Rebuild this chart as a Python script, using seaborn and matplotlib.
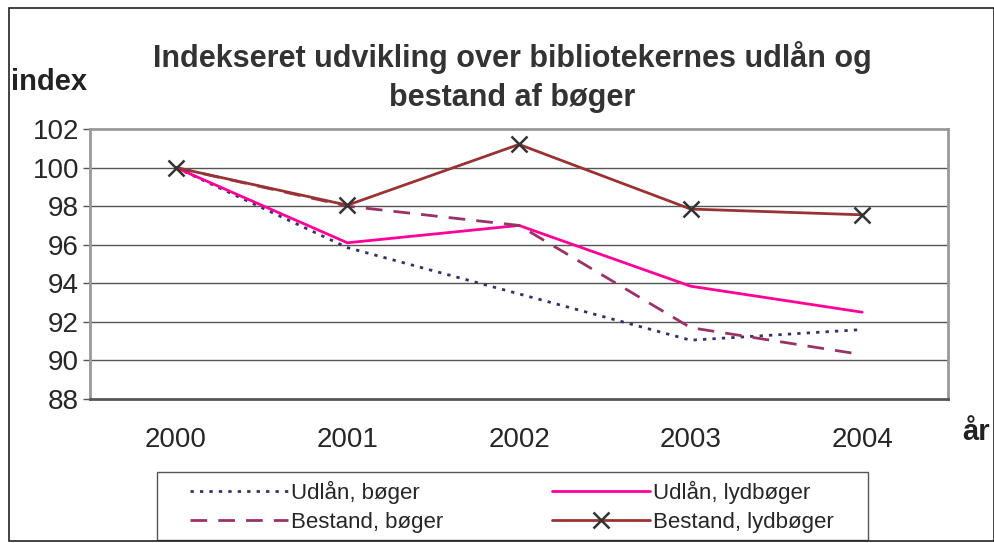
import numpy as np
import pandas as pd
import matplotlib
matplotlib.use('Agg')
import matplotlib.pyplot as plt
from matplotlib.patches import Rectangle
import seaborn as sns

# data
years = ['2000', '2001', '2002', '2003', '2004']
udlaan_boeger = [100, 95.85, 93.45, 91.05, 91.6]
udlaan_lydboeger = [100, 96.1, 97.0, 93.85, 92.5]
bestand_boeger = [100, 98.0, 97.0, 91.7, 90.3]
bestand_lydboeger = [100, 98.05, 101.2, 97.85, 97.55]
yticks = [88, 90, 92, 94, 96, 98, 100, 102]

sns.set_theme(style='white')
plt.rcParams['font.family'] = ['Liberation Sans', 'DejaVu Sans']

df = pd.DataFrame({'pos': np.arange(len(years)),
                   'Udlån, bøger': udlaan_boeger,
                   'Udlån, lydbøger': udlaan_lydboeger,
                   'Bestand, bøger': bestand_boeger,
                   'Bestand, lydbøger': bestand_lydboeger})

fig = plt.figure(figsize=(9.94, 5.43), dpi=100)
ax = fig.add_axes([90/994, 1-399/543, (948-90)/994, (399-129)/543])

for y in yticks[1:-1]:
    ax.axhline(y, color='#555555', lw=1, zorder=0)

sns.lineplot(data=df, x='pos', y='Udlån, bøger', ax=ax, color='#333366',
             lw=2, linestyle=(0, (1.2, 2.2)), label='Udlån, bøger')
sns.lineplot(data=df, x='pos', y='Udlån, lydbøger', ax=ax, color='#ff0099',
             lw=2, label='Udlån, lydbøger')
sns.lineplot(data=df, x='pos', y='Bestand, bøger', ax=ax, color='#993366',
             lw=2, linestyle=(0, (6, 4)), label='Bestand, bøger')
sns.lineplot(data=df, x='pos', y='Bestand, lydbøger', ax=ax, color='#993333',
             lw=2, marker='x', markersize=11, markeredgewidth=1.8,
             markeredgecolor='#333333', label='Bestand, lydbøger')

ax.set_xlim(-0.5, len(years) - 0.5)
ax.set_ylim(88, 102)
ax.set_yticks(yticks)
ax.set_yticklabels([str(v) for v in yticks], fontsize=20)
ax.set_xticks(np.arange(len(years)))
ax.set_xticklabels(years, fontsize=20)
ax.set_xticks(np.arange(-0.5, len(years)), minor=True)
ax.tick_params(axis='x', which='major', length=0, pad=20)
ax.tick_params(axis='x', which='minor', length=8, width=1, color='#555555', direction='out')
ax.tick_params(axis='y', length=5, width=1, color='#555555', direction='out', pad=3, left=True)
ax.set_xlabel('')
ax.set_ylabel('')

for side in ['top', 'left', 'right']:
    ax.spines[side].set_color('#999999')
    ax.spines[side].set_linewidth(2)
ax.spines['bottom'].set_color('#555555')
ax.spines['bottom'].set_linewidth(2)

# legend box drawn separately, entries placed inside it
fig.patches.append(Rectangle((157/994, 1-540/543), (868-157)/994, 68/543,
                             transform=fig.transFigure, fill=False,
                             edgecolor='#555555', lw=1))
ax.get_legend().remove()
handles, labels = ax.get_legend_handles_labels()
order = [0, 2, 1, 3]
leg = fig.legend([handles[i] for i in order], [labels[i] for i in order],
                 loc='center left', bbox_to_anchor=(190/994, 1-507/543),
                 ncol=2, fontsize=16, frameon=False,
                 handlelength=4.4, handletextpad=0.15, borderaxespad=0,
                 labelspacing=0.35, borderpad=0, columnspacing=4.9)

fig.text(512/994, 1-77/543, 'Indekseret udvikling over bibliotekernes udlån og\nbestand af bøger',
         ha='center', va='center', fontsize=22, fontweight='bold', color='#333333',
         linespacing=1.4)
fig.text(11/994, 1-82/543, 'index', ha='left', va='center', fontsize=21,
         fontweight='bold', color='#222222')
fig.text(962/994, 1-432/543, 'år', ha='left', va='center', fontsize=21,
         fontweight='bold', color='#222222')

fig.patches.append(Rectangle((9/994, 2/543), 1 - 9/994, 1 - 10/543, transform=fig.transFigure,
                             fill=False, edgecolor='#222222', lw=1.2))

fig.savefig('out.png', dpi=100)
